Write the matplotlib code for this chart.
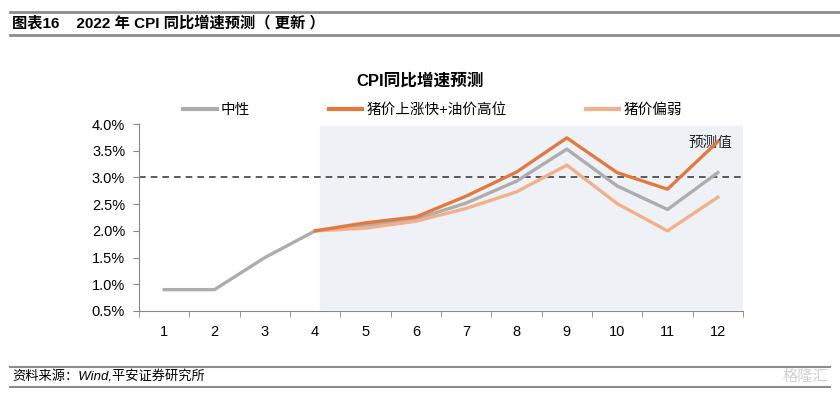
import numpy as np
import matplotlib.pyplot as plt
from matplotlib.lines import Line2D
from matplotlib.ticker import FixedLocator, FuncFormatter

# Données
mois = np.arange(1, 13)
neutre = [0.9, 0.9, 1.5, 2.0, 2.1, 2.22, 2.52, 2.93, 3.53, 2.84, 2.40, 3.09]
porc_haut = [np.nan, np.nan, np.nan, 2.0, 2.15, 2.26, 2.65, 3.10, 3.74, 3.09, 2.78, 3.67]
porc_faible = [np.nan, np.nan, np.nan, 2.0, 2.05, 2.18, 2.42, 2.73, 3.23, 2.51, 2.0, 2.63]
noms = ['中性', '猪价上涨快+油价高位', '猪价偏弱']
seuil = 3.0

fam = ['Liberation Sans', 'Noto Sans CJK SC', 'DejaVu Sans']
plt.rcParams['font.family'] = fam

fig = plt.figure(figsize=(8.4, 3.93), dpi=100)
ax = fig.add_axes([139/840, 1-311/393, (743-139)/840, (311-124)/393])

couleurs = ['#ADADAD', '#E2793F', '#F2B08A']

# zone de prévision
ax.axvspan(4.1, 12.5, ymin=0.01, ymax=0.99, color='#EEF1F6', zorder=0)
ax.axhline(seuil, color='#404040', ls=(0, (4, 3)), lw=1.2, zorder=1)

ax.plot(mois, neutre, color=couleurs[0], lw=2.4, label=noms[0], zorder=3)
ax.plot(mois, porc_haut, color=couleurs[1], lw=2.4, label=noms[1], zorder=4)
ax.plot(mois, porc_faible, color=couleurs[2], lw=2.4, label=noms[2], zorder=3)

ax.set_xlim(0.5, 12.5)
ax.set_ylim(0.5, 4.0)
ax.set_yticks(np.arange(0.5, 4.01, 0.5))
ax.yaxis.set_major_formatter(FuncFormatter(lambda v, p: f'{v:.1f}%'))
ax.set_xticks(mois)
ax.set_xticklabels([str(m) for m in mois])
ax.xaxis.set_minor_locator(FixedLocator(np.arange(0.5, 12.6, 1)))
ax.tick_params(axis='x', which='major', length=0, pad=10, labelsize=10.5)
ax.tick_params(axis='x', which='minor', length=4, color='#888888', direction='out')
ax.tick_params(axis='y', length=4, color='#888888', labelsize=10.5, pad=6)
for s in ['top', 'right']:
    ax.spines[s].set_visible(False)
for s in ['left', 'bottom']:
    ax.spines[s].set_color('#888888')

ax.text(11.85, 3.64, '预测值', ha='center', va='center', fontsize=10.5, color='#222222')

fig.text(0.5, 1-81/393, 'CPI同比增速预测', ha='center', va='center', fontsize=12, fontweight='bold')

poignees = [Line2D([], [], color=c, lw=3) for c in couleurs]
fig.legend(poignees, noms, loc='center', bbox_to_anchor=(0.515, 1-110/393), ncol=3,
           frameon=False, fontsize=10.5, handlelength=2.3, handletextpad=0.3,
           columnspacing=5.4)

# en-tête et pied de page
fig.add_artist(Line2D([10/840, 1], [1-12/393, 1-12/393], color='#8C8C8C', lw=2))
fig.add_artist(Line2D([10/840, 1], [1-35/393, 1-35/393], color='#8C8C8C', lw=2))
fig.text(12/840, 1-23/393, '图表16    2022 年 CPI 同比增速预测（ 更新 ）', ha='left', va='center',
         fontsize=11, fontweight='bold')
fig.add_artist(Line2D([10/840, 830/840], [1-367/393, 1-367/393], color='#8C8C8C', lw=1.5))
fig.add_artist(Line2D([10/840, 830/840], [1-387/393, 1-387/393], color='#8C8C8C', lw=1.5))
fig.text(12/840, 1-377/393, '资料来源：Wind,平安证券研究所', ha='left', va='center',
         fontsize=9.5, fontstyle='italic')
fig.text(828/840, 1-377/393, '格隆汇', ha='right', va='center', fontsize=11, color='#D0D0D0')

plt.savefig('out.png', dpi=100)
